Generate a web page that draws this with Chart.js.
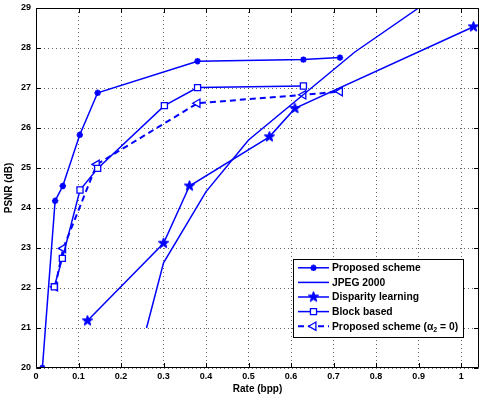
<!DOCTYPE html>
<html><head><meta charset="utf-8">
<script src="https://cdn.jsdelivr.net/npm/chart.js@4/dist/chart.umd.min.js"></script>
<style>html,body{margin:0;padding:0;background:#fff;}canvas{display:block;}</style>
</head><body>
<canvas id="c" width="481" height="396"></canvas>
<script>
// ---- data ----
const X_TICKS = [0, 0.1, 0.2, 0.3, 0.4, 0.5, 0.6, 0.7, 0.8, 0.9, 1];
const X_TICK_LABELS = ['0', '0.1', '0.2', '0.3', '0.4', '0.5', '0.6', '0.7', '0.8', '0.9', '1'];
const Y_TICKS = [20, 21, 22, 23, 24, 25, 26, 27, 28, 29];
const SERIES_NAMES = ['Proposed scheme', 'JPEG 2000', 'Disparity learning', 'Block based', 'Proposed scheme (\u03B1\u2082 = 0)'];

const proposedRate = [0.015, 0.045, 0.063, 0.103, 0.145, 0.380, 0.629, 0.715];
const proposedPsnr = [20.00, 24.18, 24.55, 25.83, 26.88, 27.67, 27.71, 27.76];

const jpegRate = [0.26, 0.30, 0.40, 0.50, 0.75, 0.90];
const jpegPsnr = [21.00, 22.63, 24.41, 25.70, 27.90, 29.00];

const disparityRate = [0.121, 0.300, 0.361, 0.549, 0.609, 1.029];
const disparityPsnr = [21.18, 23.12, 24.55, 25.78, 26.49, 28.53];

const blockRate = [0.043, 0.062, 0.1035, 0.145, 0.302, 0.380, 0.629];
const blockPsnr = [22.03, 22.74, 24.45, 24.99, 26.56, 27.01, 27.05];

const alphaRate = [0.045, 0.064, 0.143, 0.380, 0.629, 0.715];
const alphaPsnr = [22.03, 22.99, 25.09, 26.62, 26.83, 26.91];

// ---- styling ----
const BLUE = '#0000ff';
const FONT_FAMILY = '"Liberation Sans", Arial, Helvetica, sans-serif';
const pts = (xs, ys) => xs.map((x, i) => ({x: x, y: ys[i]}));

// pentagram marker
function makePentagram(r) {
  const s = Math.ceil(r * 2 + 4);
  const cv = document.createElement('canvas');
  cv.width = s; cv.height = s;
  const c = cv.getContext('2d');
  const cx = s / 2, cy = s / 2, ri = r * 0.42;
  c.beginPath();
  for (let i = 0; i < 10; i++) {
    const a = -Math.PI / 2 + i * Math.PI / 5;
    const rr = i % 2 === 0 ? r : ri;
    const px = cx + rr * Math.cos(a), py = cy + rr * Math.sin(a);
    if (i === 0) c.moveTo(px, py); else c.lineTo(px, py);
  }
  c.closePath();
  c.fillStyle = BLUE; c.strokeStyle = BLUE; c.lineWidth = 1;
  c.fill(); c.stroke();
  return cv;
}
const STAR5 = makePentagram(5.5);

const datasets = [
  {label: SERIES_NAMES[0], data: pts(proposedRate, proposedPsnr), borderColor: BLUE, backgroundColor: BLUE,
   borderWidth: 1.5, pointStyle: 'star', pointRadius: 3.2, pointBorderWidth: 1.8, pointBorderColor: BLUE, pointBackgroundColor: BLUE},
  {label: SERIES_NAMES[1], data: pts(jpegRate, jpegPsnr), borderColor: BLUE, backgroundColor: BLUE,
   borderWidth: 1.5, pointRadius: 0, pointStyle: 'circle'},
  {label: SERIES_NAMES[2], data: pts(disparityRate, disparityPsnr), borderColor: BLUE, backgroundColor: BLUE,
   borderWidth: 1.5, pointStyle: STAR5, pointRadius: 5.5},
  {label: SERIES_NAMES[3], data: pts(blockRate, blockPsnr), borderColor: BLUE, backgroundColor: BLUE,
   borderWidth: 1.5, pointStyle: 'rect', pointRadius: 4.3, pointBorderWidth: 1.3, pointBorderColor: BLUE, pointBackgroundColor: '#ffffff'},
  {label: SERIES_NAMES[4], data: pts(alphaRate, alphaPsnr), borderColor: BLUE, backgroundColor: BLUE,
   borderWidth: 2, borderDash: [6, 4], pointStyle: 'triangle', pointRotation: -90, pointRadius: 4.8, pointBorderWidth: 1.3,
   pointBorderColor: BLUE, pointBackgroundColor: '#ffffff'}
];

function drawMarker(ctx, ds, x, y) {
  if (!ds.pointRadius) {
    return;
  }
  ctx.save();
  ctx.setLineDash([]);
  ctx.strokeStyle = ds.pointBorderColor || BLUE;
  ctx.fillStyle = ds.pointBackgroundColor || BLUE;
  ctx.lineWidth = ds.pointBorderWidth || 1;
  if (Chart.helpers && Chart.helpers.drawPoint) {
    Chart.helpers.drawPoint(ctx, {pointStyle: ds.pointStyle, rotation: ds.pointRotation || 0, radius: ds.pointRadius, borderWidth: ds.pointBorderWidth || 1}, x, y);
  }
  ctx.restore();
}

function splitSub(label) {
  const i = label.indexOf('\u2082');
  if (i < 0) return [label];
  return [label.slice(0, i), '2', label.slice(i + 1)];
}
function measureLabel(ctx, label, f, fs) {
  const parts = splitSub(label);
  ctx.font = f;
  let w = ctx.measureText(parts[0]).width;
  if (parts.length > 1) {
    ctx.font = fs; w += ctx.measureText(parts[1]).width;
    ctx.font = f; w += ctx.measureText(parts[2]).width;
  }
  return w;
}
function drawLabel(ctx, label, x, y, f, fs) {
  const parts = splitSub(label);
  ctx.font = f;
  ctx.fillText(parts[0], x, y);
  if (parts.length > 1) {
    let cx = x + ctx.measureText(parts[0]).width;
    ctx.font = fs; ctx.fillText(parts[1], cx, y + 3);
    cx += ctx.measureText(parts[1]).width;
    ctx.font = f; ctx.fillText(parts[2], cx, y);
  }
}

const framePlugin = {
  id: 'matlabFrame',
  afterDraw(chart) {
    const ctx = chart.ctx, ca = chart.chartArea;
    const xs = chart.scales.x, ys = chart.scales.y;
    ctx.save();
    ctx.strokeStyle = '#000'; ctx.lineWidth = 1; ctx.setLineDash([]);
    const L = Math.round(ca.left) + 0.5, R = Math.round(ca.right) - 0.5, T = Math.round(ca.top) + 0.5, B = Math.round(ca.bottom) - 0.5;
    ctx.beginPath();
    ctx.rect(L, T, R - L, B - T);
    const tl = 4.5;
    X_TICKS.forEach(v => {
      const px = Math.round(xs.getPixelForValue(v)) + 0.5;
      ctx.moveTo(px, B); ctx.lineTo(px, B - tl);
      ctx.moveTo(px, T); ctx.lineTo(px, T + tl);
    });
    Y_TICKS.forEach(v => {
      const py = Math.round(ys.getPixelForValue(v)) + 0.5;
      ctx.moveTo(L, py); ctx.lineTo(L + tl, py);
      ctx.moveTo(R, py); ctx.lineTo(R - tl, py);
    });
    ctx.stroke();

    // legend box (south-east)
    const f = 'bold 10.3px ' + FONT_FAMILY, fs = 'bold 7px ' + FONT_FAMILY;
    const items = chart.data.datasets;
    const rowH = 14.6, padL = 5, sampleW = 31, gap = 3, padR = 5, padT = 8.8, padB = 11.8;
    const tw = Math.max(...items.map(d => measureLabel(ctx, d.label, f, fs)));
    const w = padL + sampleW + gap + tw + padR;
    const h = padT + padB + rowH * (items.length - 1);
    const right = Math.round(ca.right - 16) + 0.5, bottom = Math.round(ca.bottom - 31) + 0.5;
    const left = Math.round(right - w), top = Math.round(bottom - h);
    ctx.fillStyle = '#fff';
    ctx.fillRect(left + 0.5, top + 0.5, right - left - 1, bottom - top);
    ctx.strokeStyle = '#000'; ctx.lineWidth = 1;
    ctx.strokeRect(left + 0.5, top + 0.5, right - left - 0.5, bottom - top - 0.5);
    ctx.textBaseline = 'middle'; ctx.textAlign = 'left';
    items.forEach((d, i) => {
      const y = top + padT + rowH * i;
      const x0 = left + padL, x1 = x0 + sampleW;
      ctx.save();
      ctx.strokeStyle = d.borderColor; ctx.lineWidth = d.borderWidth;
      ctx.setLineDash(d.borderDash || []);
      ctx.beginPath(); ctx.moveTo(x0, y); ctx.lineTo(x1, y); ctx.stroke();
      ctx.restore();
      drawMarker(ctx, d, (x0 + x1) / 2, y);
      ctx.fillStyle = '#000';
      drawLabel(ctx, d.label, x1 + gap, y + 0.5, f, fs);
    });
    ctx.restore();
  }
};

const tickFont = {family: FONT_FAMILY, size: 9, weight: 'bold'};
const titleFont = {family: FONT_FAMILY, size: 10, weight: 'bold'};
const gridCommon = {color: 'rgba(0,0,0,0.6)', lineWidth: 1, drawTicks: false};

new Chart(document.getElementById('c'), {
  type: 'line',
  data: {datasets: datasets},
  options: {
    responsive: false,
    animation: false,
    events: [],
    layout: {autoPadding: false, padding: {top: 8, right: 2, left: 0, bottom: 0}},
    elements: {line: {tension: 0}},
    scales: {
      x: {
        type: 'linear', min: 0, max: 1.042,
        afterBuildTicks: s => { s.ticks = X_TICKS.map(v => ({value: v})); },
        afterFit: s => { s.height = 28; s.paddingLeft = 0; s.paddingRight = 0; },
        ticks: {font: tickFont, color: '#000', padding: 3, maxRotation: 0, autoSkip: false,
                callback: (v) => { const i = X_TICKS.indexOf(v); return i >= 0 ? X_TICK_LABELS[i] : ''; }},
        grid: gridCommon,
        border: {display: false, dash: [1, 3]},
        title: {display: true, text: 'Rate (bpp)', font: titleFont, color: '#000', padding: {top: 0, bottom: 1}}
      },
      y: {
        type: 'linear', min: 20, max: 29,
        afterBuildTicks: s => { s.ticks = Y_TICKS.map(v => ({value: v})); },
        afterFit: s => { s.width = 36; s.paddingTop = 0; s.paddingBottom = 0; },
        ticks: {font: tickFont, color: '#000', padding: 5, autoSkip: false, callback: v => String(v)},
        grid: gridCommon,
        border: {display: false, dash: [1, 3]},
        title: {display: true, text: 'PSNR (dB)', font: titleFont, color: '#000', padding: {top: 3, bottom: 0}}
      }
    },
    plugins: {legend: {display: false}, tooltip: {enabled: false}}
  },
  plugins: [framePlugin]
});
</script>
</body></html>
